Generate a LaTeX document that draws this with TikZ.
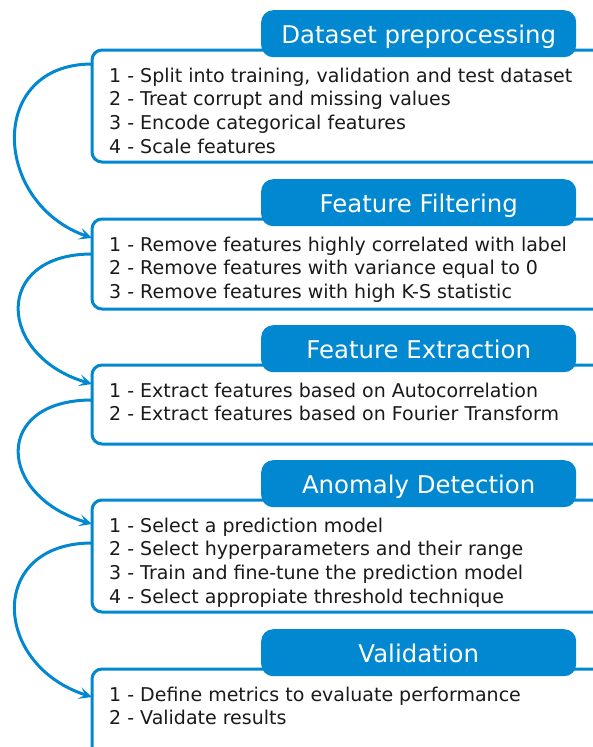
\documentclass[tikz,border=0pt]{standalone}
\usepackage{fontspec}
\setmainfont{DejaVu Sans}
\usetikzlibrary{arrows.meta}
\definecolor{mblue}{HTML}{0288D1}
\definecolor{mtext}{HTML}{1A1A1A}
\begin{document}
\begin{tikzpicture}[x=1pt,y=-1pt,
 panel/.style={draw=mblue, line width=3pt, rounded corners=10pt, fill=white, anchor=north west, minimum width=512pt, inner sep=0pt, outer sep=0pt},
 head/.style={fill=mblue, rounded corners=12pt, minimum width=315pt, minimum height=47pt, anchor=north west, text=white, font=\fontsize{24.4}{28}\selectfont, inner sep=0pt, text height=22pt, text depth=3pt},
 items/.style={anchor=base west, align=left, text=mtext, font=\fontsize{19}{23.7}\selectfont, inner sep=0pt},
 flow/.style={draw=mblue, line width=3pt, -{Stealth[length=13pt,width=12pt,inset=6pt]}}
]
\useasboundingbox (0,0) rectangle (592,747);
% panels
\node[panel, minimum height=112pt] (b1) at (92,50) {};
\node[panel, minimum height=90pt] (b2) at (92,219) {};
\node[panel, minimum height=79pt] (b3) at (92,365) {};
\node[panel, minimum height=112pt] (b4) at (92,500) {};
\node[panel, minimum height=100pt] (b5) at (92,669) {};
% headers
\node[head] (h1) at (261,10) {Dataset preprocessing};
\node[head] (h2) at (261,179) {Feature Filtering};
\node[head] (h3) at (261,325) {Feature Extraction};
\node[head] (h4) at (261,460) {Anomaly Detection};
\node[head] (h5) at (261,629) {Validation};
% items (anchored at the baseline of the last line)
\node[items] (t1) at (109,153.1) {1 - Split into training, validation and test dataset\\2 - Treat corrupt and missing values\\3 - Encode categorical features\\4 - Scale features};
\node[items] (t2) at (109,298.4) {1 - Remove features highly correlated with label\\2 - Remove features with variance equal to 0\\3 - Remove features with high K-S statistic};
\node[items] (t3) at (109,420.7) {1 - Extract features based on Autocorrelation\\2 - Extract features based on Fourier Transform};
\node[items] (t4) at (109,603.1) {1 - Select a prediction model\\2 - Select hyperparameters and their range\\3 - Train and fine-tune the prediction model\\4 - Select appropiate threshold technique};
\node[items] (t5) at (109,724.7) {1 - Define metrics to evaluate performance\\2 - Validate results};
% connectors
\draw[flow] ([yshift=-14pt]b1.north west) .. controls +(-105,0) and +(-100,-35) .. ([yshift=-19pt]b2.north west);
\draw[flow] ([yshift=-35pt]b2.north west) .. controls +(-100,0) and +(-95,-28) .. ([yshift=-19pt]b3.north west);
\draw[flow] ([yshift=-35pt]b3.north west) .. controls +(-100,0) and +(-95,-28) .. ([yshift=-24pt]b4.north west);
\draw[flow] ([yshift=-43pt]b4.north west) .. controls +(-105,0) and +(-100,-32) .. ([yshift=-28pt]b5.north west);
\end{tikzpicture}
\end{document}
